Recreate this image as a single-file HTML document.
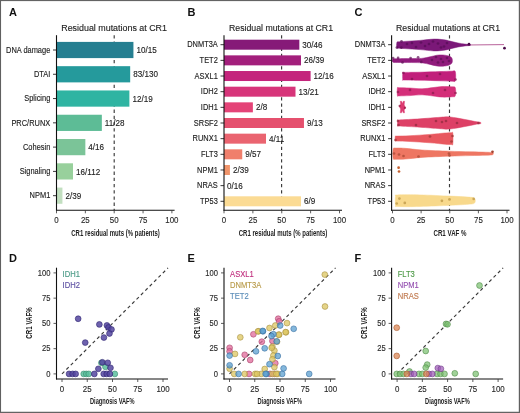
<!DOCTYPE html>
<html><head><meta charset="utf-8"><style>
html,body{margin:0;padding:0;background:#fff;}
svg{display:block;font-family:"Liberation Sans", sans-serif;will-change:transform;}
</style></head><body>
<svg width="520" height="413" viewBox="0 0 520 413">
<rect x="0" y="0" width="520" height="413" fill="#fff"/>
<text x="9.00" y="15.90" font-size="11" text-anchor="start" fill="#111" font-weight="bold">A</text>
<text x="187.40" y="15.90" font-size="11" text-anchor="start" fill="#111" font-weight="bold">B</text>
<text x="354.60" y="15.90" font-size="11" text-anchor="start" fill="#111" font-weight="bold">C</text>
<text x="9.00" y="261.90" font-size="11" text-anchor="start" fill="#111" font-weight="bold">D</text>
<text x="187.40" y="261.90" font-size="11" text-anchor="start" fill="#111" font-weight="bold">E</text>
<text x="354.60" y="261.90" font-size="11" text-anchor="start" fill="#111" font-weight="bold">F</text>
<text x="0" y="0" transform="translate(114.10,30.50) scale(1,1.06)" font-size="8.8" text-anchor="middle" fill="#222" font-weight="normal" textLength="105.7" lengthAdjust="spacingAndGlyphs" stroke="#222" stroke-width="0.12">Residual mutations at CR1</text>
<line x1="114.20" y1="35.20" x2="114.20" y2="210.30" stroke="#3a3a3a" stroke-width="1.15" stroke-dasharray="3.3,2.9"/>
<rect x="56.50" y="41.90" width="76.93" height="16.20" fill="#257f91"/>
<line x1="53.00" y1="50.00" x2="56.50" y2="50.00" stroke="#222" stroke-width="0.9"/>
<text x="0" y="0" transform="translate(50.30,52.70) scale(1,1.1)" font-size="7.45" text-anchor="end" fill="#222" font-weight="normal" stroke="#222" stroke-width="0.12">DNA damage</text>
<text x="0" y="0" transform="translate(136.43,53.10) scale(1,1.05)" font-size="8.1" text-anchor="start" fill="#222" font-weight="normal" stroke="#222" stroke-width="0.12">10/15</text>
<rect x="56.50" y="66.18" width="73.68" height="16.20" fill="#259a9c"/>
<line x1="53.00" y1="74.28" x2="56.50" y2="74.28" stroke="#222" stroke-width="0.9"/>
<text x="0" y="0" transform="translate(50.30,76.98) scale(1,1.1)" font-size="7.45" text-anchor="end" fill="#222" font-weight="normal" stroke="#222" stroke-width="0.12">DTAI</text>
<text x="0" y="0" transform="translate(133.18,77.38) scale(1,1.05)" font-size="8.1" text-anchor="start" fill="#222" font-weight="normal" stroke="#222" stroke-width="0.12">83/130</text>
<rect x="56.50" y="90.46" width="72.88" height="16.20" fill="#2fb4a2"/>
<line x1="53.00" y1="98.56" x2="56.50" y2="98.56" stroke="#222" stroke-width="0.9"/>
<text x="0" y="0" transform="translate(50.30,101.26) scale(1,1.1)" font-size="7.45" text-anchor="end" fill="#222" font-weight="normal" stroke="#222" stroke-width="0.12">Splicing</text>
<text x="0" y="0" transform="translate(132.38,101.66) scale(1,1.05)" font-size="8.1" text-anchor="start" fill="#222" font-weight="normal" stroke="#222" stroke-width="0.12">12/19</text>
<rect x="56.50" y="114.74" width="45.34" height="16.20" fill="#5dbc96"/>
<line x1="53.00" y1="122.84" x2="56.50" y2="122.84" stroke="#222" stroke-width="0.9"/>
<text x="0" y="0" transform="translate(50.30,125.54) scale(1,1.1)" font-size="7.45" text-anchor="end" fill="#222" font-weight="normal" stroke="#222" stroke-width="0.12">PRC/RUNX</text>
<text x="0" y="0" transform="translate(104.84,125.94) scale(1,1.05)" font-size="8.1" text-anchor="start" fill="#222" font-weight="normal" stroke="#222" stroke-width="0.12">11/28</text>
<rect x="56.50" y="139.02" width="28.85" height="16.20" fill="#7bc498"/>
<line x1="53.00" y1="147.12" x2="56.50" y2="147.12" stroke="#222" stroke-width="0.9"/>
<text x="0" y="0" transform="translate(50.30,149.82) scale(1,1.1)" font-size="7.45" text-anchor="end" fill="#222" font-weight="normal" stroke="#222" stroke-width="0.12">Cohesin</text>
<text x="0" y="0" transform="translate(88.35,150.22) scale(1,1.05)" font-size="8.1" text-anchor="start" fill="#222" font-weight="normal" stroke="#222" stroke-width="0.12">4/16</text>
<rect x="56.50" y="163.30" width="16.49" height="16.20" fill="#98d09c"/>
<line x1="53.00" y1="171.40" x2="56.50" y2="171.40" stroke="#222" stroke-width="0.9"/>
<text x="0" y="0" transform="translate(50.30,174.10) scale(1,1.1)" font-size="7.45" text-anchor="end" fill="#222" font-weight="normal" stroke="#222" stroke-width="0.12">Signaling</text>
<text x="0" y="0" transform="translate(75.99,174.50) scale(1,1.05)" font-size="8.1" text-anchor="start" fill="#222" font-weight="normal" stroke="#222" stroke-width="0.12">16/112</text>
<rect x="56.50" y="187.58" width="5.92" height="16.20" fill="#c2dfc0"/>
<line x1="53.00" y1="195.68" x2="56.50" y2="195.68" stroke="#222" stroke-width="0.9"/>
<text x="0" y="0" transform="translate(50.30,198.38) scale(1,1.1)" font-size="7.45" text-anchor="end" fill="#222" font-weight="normal" stroke="#222" stroke-width="0.12">NPM1</text>
<text x="0" y="0" transform="translate(65.42,198.78) scale(1,1.05)" font-size="8.1" text-anchor="start" fill="#222" font-weight="normal" stroke="#222" stroke-width="0.12">2/39</text>
<line x1="56.50" y1="35.20" x2="56.50" y2="210.80" stroke="#111" stroke-width="1.1"/>
<line x1="56.00" y1="210.30" x2="174.60" y2="210.30" stroke="#111" stroke-width="1.1"/>
<line x1="56.50" y1="210.30" x2="56.50" y2="213.30" stroke="#333" stroke-width="0.8"/>
<text x="0" y="0" transform="translate(56.50,222.80) scale(1,1.1)" font-size="7.9" text-anchor="middle" fill="#2a2a2a" font-weight="normal" stroke="#2a2a2a" stroke-width="0.12">0</text>
<line x1="85.35" y1="210.30" x2="85.35" y2="213.30" stroke="#333" stroke-width="0.8"/>
<text x="0" y="0" transform="translate(85.35,222.80) scale(1,1.1)" font-size="7.9" text-anchor="middle" fill="#2a2a2a" font-weight="normal" stroke="#2a2a2a" stroke-width="0.12">25</text>
<line x1="114.20" y1="210.30" x2="114.20" y2="213.30" stroke="#333" stroke-width="0.8"/>
<text x="0" y="0" transform="translate(114.20,222.80) scale(1,1.1)" font-size="7.9" text-anchor="middle" fill="#2a2a2a" font-weight="normal" stroke="#2a2a2a" stroke-width="0.12">50</text>
<line x1="143.05" y1="210.30" x2="143.05" y2="213.30" stroke="#333" stroke-width="0.8"/>
<text x="0" y="0" transform="translate(143.05,222.80) scale(1,1.1)" font-size="7.9" text-anchor="middle" fill="#2a2a2a" font-weight="normal" stroke="#2a2a2a" stroke-width="0.12">75</text>
<line x1="171.90" y1="210.30" x2="171.90" y2="213.30" stroke="#333" stroke-width="0.8"/>
<text x="0" y="0" transform="translate(171.90,222.80) scale(1,1.1)" font-size="7.9" text-anchor="middle" fill="#2a2a2a" font-weight="normal" stroke="#2a2a2a" stroke-width="0.12">100</text>
<text x="0" y="0" transform="translate(115.50,236.00) scale(1,1.1)" font-size="8.6" text-anchor="middle" fill="#222" font-weight="bold" textLength="88.5" lengthAdjust="spacingAndGlyphs">CR1 residual muts (% patients)</text>
<text x="0" y="0" transform="translate(281.00,30.50) scale(1,1.06)" font-size="8.8" text-anchor="middle" fill="#222" font-weight="normal" textLength="104" lengthAdjust="spacingAndGlyphs" stroke="#222" stroke-width="0.12">Residual mutations at CR1</text>
<line x1="281.60" y1="35.20" x2="281.60" y2="210.30" stroke="#3a3a3a" stroke-width="1.15" stroke-dasharray="3.3,2.9"/>
<rect x="224.00" y="39.70" width="75.33" height="10.00" fill="#861a78"/>
<line x1="220.50" y1="44.70" x2="224.00" y2="44.70" stroke="#222" stroke-width="0.9"/>
<text x="0" y="0" transform="translate(217.80,47.40) scale(1,1.1)" font-size="7.45" text-anchor="end" fill="#222" font-weight="normal" stroke="#222" stroke-width="0.12">DNMT3A</text>
<text x="0" y="0" transform="translate(302.33,47.80) scale(1,1.05)" font-size="8.1" text-anchor="start" fill="#222" font-weight="normal" stroke="#222" stroke-width="0.12">30/46</text>
<rect x="224.00" y="55.36" width="77.00" height="10.00" fill="#a31f7c"/>
<line x1="220.50" y1="60.36" x2="224.00" y2="60.36" stroke="#222" stroke-width="0.9"/>
<text x="0" y="0" transform="translate(217.80,63.06) scale(1,1.1)" font-size="7.45" text-anchor="end" fill="#222" font-weight="normal" stroke="#222" stroke-width="0.12">TET2</text>
<text x="0" y="0" transform="translate(304.00,63.46) scale(1,1.05)" font-size="8.1" text-anchor="start" fill="#222" font-weight="normal" stroke="#222" stroke-width="0.12">26/39</text>
<rect x="224.00" y="71.02" width="86.62" height="10.00" fill="#c4257c"/>
<line x1="220.50" y1="76.02" x2="224.00" y2="76.02" stroke="#222" stroke-width="0.9"/>
<text x="0" y="0" transform="translate(217.80,78.72) scale(1,1.1)" font-size="7.45" text-anchor="end" fill="#222" font-weight="normal" stroke="#222" stroke-width="0.12">ASXL1</text>
<text x="0" y="0" transform="translate(313.62,79.12) scale(1,1.05)" font-size="8.1" text-anchor="start" fill="#222" font-weight="normal" stroke="#222" stroke-width="0.12">12/16</text>
<rect x="224.00" y="86.68" width="71.50" height="10.00" fill="#d7357a"/>
<line x1="220.50" y1="91.68" x2="224.00" y2="91.68" stroke="#222" stroke-width="0.9"/>
<text x="0" y="0" transform="translate(217.80,94.38) scale(1,1.1)" font-size="7.45" text-anchor="end" fill="#222" font-weight="normal" stroke="#222" stroke-width="0.12">IDH2</text>
<text x="0" y="0" transform="translate(298.50,94.78) scale(1,1.05)" font-size="8.1" text-anchor="start" fill="#222" font-weight="normal" stroke="#222" stroke-width="0.12">13/21</text>
<rect x="224.00" y="102.34" width="28.88" height="10.00" fill="#e44377"/>
<line x1="220.50" y1="107.34" x2="224.00" y2="107.34" stroke="#222" stroke-width="0.9"/>
<text x="0" y="0" transform="translate(217.80,110.04) scale(1,1.1)" font-size="7.45" text-anchor="end" fill="#222" font-weight="normal" stroke="#222" stroke-width="0.12">IDH1</text>
<text x="0" y="0" transform="translate(255.88,110.44) scale(1,1.05)" font-size="8.1" text-anchor="start" fill="#222" font-weight="normal" stroke="#222" stroke-width="0.12">2/8</text>
<rect x="224.00" y="118.00" width="79.96" height="10.00" fill="#e5506e"/>
<line x1="220.50" y1="123.00" x2="224.00" y2="123.00" stroke="#222" stroke-width="0.9"/>
<text x="0" y="0" transform="translate(217.80,125.70) scale(1,1.1)" font-size="7.45" text-anchor="end" fill="#222" font-weight="normal" stroke="#222" stroke-width="0.12">SRSF2</text>
<text x="0" y="0" transform="translate(306.96,126.10) scale(1,1.05)" font-size="8.1" text-anchor="start" fill="#222" font-weight="normal" stroke="#222" stroke-width="0.12">9/13</text>
<rect x="224.00" y="133.66" width="42.00" height="10.00" fill="#ea6470"/>
<line x1="220.50" y1="138.66" x2="224.00" y2="138.66" stroke="#222" stroke-width="0.9"/>
<text x="0" y="0" transform="translate(217.80,141.36) scale(1,1.1)" font-size="7.45" text-anchor="end" fill="#222" font-weight="normal" stroke="#222" stroke-width="0.12">RUNX1</text>
<text x="0" y="0" transform="translate(269.00,141.76) scale(1,1.05)" font-size="8.1" text-anchor="start" fill="#222" font-weight="normal" stroke="#222" stroke-width="0.12">4/11</text>
<rect x="224.00" y="149.32" width="18.24" height="10.00" fill="#f07f6c"/>
<line x1="220.50" y1="154.32" x2="224.00" y2="154.32" stroke="#222" stroke-width="0.9"/>
<text x="0" y="0" transform="translate(217.80,157.02) scale(1,1.1)" font-size="7.45" text-anchor="end" fill="#222" font-weight="normal" stroke="#222" stroke-width="0.12">FLT3</text>
<text x="0" y="0" transform="translate(245.24,157.42) scale(1,1.05)" font-size="8.1" text-anchor="start" fill="#222" font-weight="normal" stroke="#222" stroke-width="0.12">9/57</text>
<rect x="224.00" y="164.98" width="5.92" height="10.00" fill="#f0946a"/>
<line x1="220.50" y1="169.98" x2="224.00" y2="169.98" stroke="#222" stroke-width="0.9"/>
<text x="0" y="0" transform="translate(217.80,172.68) scale(1,1.1)" font-size="7.45" text-anchor="end" fill="#222" font-weight="normal" stroke="#222" stroke-width="0.12">NPM1</text>
<text x="0" y="0" transform="translate(232.92,173.08) scale(1,1.05)" font-size="8.1" text-anchor="start" fill="#222" font-weight="normal" stroke="#222" stroke-width="0.12">2/39</text>
<line x1="220.50" y1="185.64" x2="224.00" y2="185.64" stroke="#222" stroke-width="0.9"/>
<text x="0" y="0" transform="translate(217.80,188.34) scale(1,1.1)" font-size="7.45" text-anchor="end" fill="#222" font-weight="normal" stroke="#222" stroke-width="0.12">NRAS</text>
<text x="0" y="0" transform="translate(227.00,188.74) scale(1,1.05)" font-size="8.1" text-anchor="start" fill="#222" font-weight="normal" stroke="#222" stroke-width="0.12">0/16</text>
<rect x="224.00" y="196.30" width="77.00" height="10.00" fill="#fbdb94"/>
<line x1="220.50" y1="201.30" x2="224.00" y2="201.30" stroke="#222" stroke-width="0.9"/>
<text x="0" y="0" transform="translate(217.80,204.00) scale(1,1.1)" font-size="7.45" text-anchor="end" fill="#222" font-weight="normal" stroke="#222" stroke-width="0.12">TP53</text>
<text x="0" y="0" transform="translate(304.00,204.40) scale(1,1.05)" font-size="8.1" text-anchor="start" fill="#222" font-weight="normal" stroke="#222" stroke-width="0.12">6/9</text>
<line x1="224.00" y1="35.20" x2="224.00" y2="210.80" stroke="#111" stroke-width="1.1"/>
<line x1="223.50" y1="210.30" x2="342.00" y2="210.30" stroke="#111" stroke-width="1.1"/>
<line x1="224.00" y1="210.30" x2="224.00" y2="213.30" stroke="#333" stroke-width="0.8"/>
<text x="0" y="0" transform="translate(224.00,222.80) scale(1,1.1)" font-size="7.9" text-anchor="middle" fill="#2a2a2a" font-weight="normal" stroke="#2a2a2a" stroke-width="0.12">0</text>
<line x1="252.88" y1="210.30" x2="252.88" y2="213.30" stroke="#333" stroke-width="0.8"/>
<text x="0" y="0" transform="translate(252.88,222.80) scale(1,1.1)" font-size="7.9" text-anchor="middle" fill="#2a2a2a" font-weight="normal" stroke="#2a2a2a" stroke-width="0.12">25</text>
<line x1="281.75" y1="210.30" x2="281.75" y2="213.30" stroke="#333" stroke-width="0.8"/>
<text x="0" y="0" transform="translate(281.75,222.80) scale(1,1.1)" font-size="7.9" text-anchor="middle" fill="#2a2a2a" font-weight="normal" stroke="#2a2a2a" stroke-width="0.12">50</text>
<line x1="310.62" y1="210.30" x2="310.62" y2="213.30" stroke="#333" stroke-width="0.8"/>
<text x="0" y="0" transform="translate(310.62,222.80) scale(1,1.1)" font-size="7.9" text-anchor="middle" fill="#2a2a2a" font-weight="normal" stroke="#2a2a2a" stroke-width="0.12">75</text>
<line x1="339.50" y1="210.30" x2="339.50" y2="213.30" stroke="#333" stroke-width="0.8"/>
<text x="0" y="0" transform="translate(339.50,222.80) scale(1,1.1)" font-size="7.9" text-anchor="middle" fill="#2a2a2a" font-weight="normal" stroke="#2a2a2a" stroke-width="0.12">100</text>
<text x="0" y="0" transform="translate(283.00,236.00) scale(1,1.1)" font-size="8.6" text-anchor="middle" fill="#222" font-weight="bold" textLength="88.5" lengthAdjust="spacingAndGlyphs">CR1 residual muts (% patients)</text>
<text x="0" y="0" transform="translate(448.00,30.50) scale(1,1.06)" font-size="8.8" text-anchor="middle" fill="#222" font-weight="normal" textLength="104" lengthAdjust="spacingAndGlyphs" stroke="#222" stroke-width="0.12">Residual mutations at CR1</text>
<line x1="388.10" y1="44.70" x2="391.60" y2="44.70" stroke="#222" stroke-width="0.9"/>
<text x="0" y="0" transform="translate(385.40,47.40) scale(1,1.1)" font-size="7.45" text-anchor="end" fill="#222" font-weight="normal" stroke="#222" stroke-width="0.12">DNMT3A</text>
<line x1="388.10" y1="60.36" x2="391.60" y2="60.36" stroke="#222" stroke-width="0.9"/>
<text x="0" y="0" transform="translate(385.40,63.06) scale(1,1.1)" font-size="7.45" text-anchor="end" fill="#222" font-weight="normal" stroke="#222" stroke-width="0.12">TET2</text>
<line x1="388.10" y1="76.02" x2="391.60" y2="76.02" stroke="#222" stroke-width="0.9"/>
<text x="0" y="0" transform="translate(385.40,78.72) scale(1,1.1)" font-size="7.45" text-anchor="end" fill="#222" font-weight="normal" stroke="#222" stroke-width="0.12">ASXL1</text>
<line x1="388.10" y1="91.68" x2="391.60" y2="91.68" stroke="#222" stroke-width="0.9"/>
<text x="0" y="0" transform="translate(385.40,94.38) scale(1,1.1)" font-size="7.45" text-anchor="end" fill="#222" font-weight="normal" stroke="#222" stroke-width="0.12">IDH2</text>
<line x1="388.10" y1="107.34" x2="391.60" y2="107.34" stroke="#222" stroke-width="0.9"/>
<text x="0" y="0" transform="translate(385.40,110.04) scale(1,1.1)" font-size="7.45" text-anchor="end" fill="#222" font-weight="normal" stroke="#222" stroke-width="0.12">IDH1</text>
<line x1="388.10" y1="123.00" x2="391.60" y2="123.00" stroke="#222" stroke-width="0.9"/>
<text x="0" y="0" transform="translate(385.40,125.70) scale(1,1.1)" font-size="7.45" text-anchor="end" fill="#222" font-weight="normal" stroke="#222" stroke-width="0.12">SRSF2</text>
<line x1="388.10" y1="138.66" x2="391.60" y2="138.66" stroke="#222" stroke-width="0.9"/>
<text x="0" y="0" transform="translate(385.40,141.36) scale(1,1.1)" font-size="7.45" text-anchor="end" fill="#222" font-weight="normal" stroke="#222" stroke-width="0.12">RUNX1</text>
<line x1="388.10" y1="154.32" x2="391.60" y2="154.32" stroke="#222" stroke-width="0.9"/>
<text x="0" y="0" transform="translate(385.40,157.02) scale(1,1.1)" font-size="7.45" text-anchor="end" fill="#222" font-weight="normal" stroke="#222" stroke-width="0.12">FLT3</text>
<line x1="388.10" y1="169.98" x2="391.60" y2="169.98" stroke="#222" stroke-width="0.9"/>
<text x="0" y="0" transform="translate(385.40,172.68) scale(1,1.1)" font-size="7.45" text-anchor="end" fill="#222" font-weight="normal" stroke="#222" stroke-width="0.12">NPM1</text>
<line x1="388.10" y1="185.64" x2="391.60" y2="185.64" stroke="#222" stroke-width="0.9"/>
<text x="0" y="0" transform="translate(385.40,188.34) scale(1,1.1)" font-size="7.45" text-anchor="end" fill="#222" font-weight="normal" stroke="#222" stroke-width="0.12">NRAS</text>
<line x1="388.10" y1="201.30" x2="391.60" y2="201.30" stroke="#222" stroke-width="0.9"/>
<text x="0" y="0" transform="translate(385.40,204.00) scale(1,1.1)" font-size="7.45" text-anchor="end" fill="#222" font-weight="normal" stroke="#222" stroke-width="0.12">TP53</text>
<line x1="449.50" y1="35.20" x2="449.50" y2="210.30" stroke="#3a3a3a" stroke-width="1.15" stroke-dasharray="3.3,2.9"/>
<path d="M466,45 L504,44.6" stroke="#b0508f" stroke-width="0.9" fill="none"/>
<path d="M396.90,42.40 C397.25,41.43 397.65,41.97 399.00,41.80 C400.35,41.63 401.50,41.63 405.00,41.40 C408.50,41.17 415.17,40.78 420.00,40.40 C424.83,40.02 430.00,39.20 434.00,39.10 C438.00,39.00 441.33,39.47 444.00,39.80 C446.67,40.13 447.67,40.57 450.00,41.10 C452.33,41.63 455.50,42.50 458.00,43.00 C460.50,43.50 463.00,43.84 465.00,44.10 C467.00,44.36 469.17,44.32 470.00,44.55 C470.83,44.77 470.83,45.23 470.00,45.45 C469.17,45.68 467.00,45.64 465.00,45.90 C463.00,46.16 460.50,46.50 458.00,47.00 C455.50,47.50 452.33,48.37 450.00,48.90 C447.67,49.43 446.67,49.87 444.00,50.20 C441.33,50.53 438.00,51.00 434.00,50.90 C430.00,50.80 424.83,49.98 420.00,49.60 C415.17,49.22 408.50,48.83 405.00,48.60 C401.50,48.37 400.35,48.37 399.00,48.20 C397.65,48.03 397.25,48.57 396.90,47.60 C396.55,46.63 396.55,43.37 396.90,42.40Z" fill="#7b1878" fill-opacity="1.0" stroke="#7b1878" stroke-width="0.5" stroke-linejoin="round"/>
<circle cx="401.50" cy="41.30" r="1.35" fill="#560c54" fill-opacity="0.7"/>
<circle cx="396.90" cy="47.60" r="1.35" fill="#560c54" fill-opacity="0.7"/>
<circle cx="401.30" cy="47.60" r="1.35" fill="#560c54" fill-opacity="0.7"/>
<circle cx="407.00" cy="44.00" r="1.35" fill="#560c54" fill-opacity="0.7"/>
<circle cx="412.00" cy="43.00" r="1.35" fill="#560c54" fill-opacity="0.7"/>
<circle cx="416.00" cy="47.00" r="1.35" fill="#560c54" fill-opacity="0.7"/>
<circle cx="421.00" cy="42.50" r="1.35" fill="#560c54" fill-opacity="0.7"/>
<circle cx="425.00" cy="46.00" r="1.35" fill="#560c54" fill-opacity="0.7"/>
<circle cx="429.00" cy="44.00" r="1.35" fill="#560c54" fill-opacity="0.7"/>
<circle cx="433.00" cy="41.50" r="1.35" fill="#560c54" fill-opacity="0.7"/>
<circle cx="438.00" cy="43.50" r="1.35" fill="#560c54" fill-opacity="0.7"/>
<circle cx="441.00" cy="47.50" r="1.35" fill="#560c54" fill-opacity="0.7"/>
<circle cx="444.00" cy="46.50" r="1.35" fill="#560c54" fill-opacity="0.7"/>
<circle cx="447.00" cy="43.00" r="1.35" fill="#560c54" fill-opacity="0.7"/>
<circle cx="469.00" cy="44.20" r="1.35" fill="#4a0a48" fill-opacity="1.0"/>
<circle cx="504.50" cy="48.20" r="1.35" fill="#4a0a48" fill-opacity="1.0"/>
<path d="M393.00,59.00 C394.17,58.42 396.33,58.77 400.00,58.70 C403.67,58.63 411.17,58.68 415.00,58.60 C418.83,58.52 420.50,58.50 423.00,58.20 C425.50,57.90 427.67,57.30 430.00,56.80 C432.33,56.30 434.83,55.50 437.00,55.20 C439.17,54.90 441.00,54.85 443.00,55.00 C445.00,55.15 447.50,55.53 449.00,56.10 C450.50,56.67 451.50,57.28 452.00,58.40 C452.50,59.52 452.50,61.68 452.00,62.80 C451.50,63.92 450.50,64.53 449.00,65.10 C447.50,65.67 445.00,66.05 443.00,66.20 C441.00,66.35 439.17,66.30 437.00,66.00 C434.83,65.70 432.33,64.90 430.00,64.40 C427.67,63.90 425.50,63.30 423.00,63.00 C420.50,62.70 418.83,62.68 415.00,62.60 C411.17,62.52 403.67,62.57 400.00,62.50 C396.33,62.43 394.17,62.78 393.00,62.20 C391.83,61.62 391.83,59.58 393.00,59.00Z" fill="#901b7c" fill-opacity="1.0" stroke="#901b7c" stroke-width="0.5" stroke-linejoin="round"/>
<circle cx="393.10" cy="58.10" r="1.35" fill="#5e0f55" fill-opacity="0.7"/>
<circle cx="398.10" cy="57.90" r="1.35" fill="#5e0f55" fill-opacity="0.7"/>
<circle cx="402.50" cy="62.50" r="1.35" fill="#5e0f55" fill-opacity="0.7"/>
<circle cx="410.60" cy="58.10" r="1.35" fill="#5e0f55" fill-opacity="0.7"/>
<circle cx="418.10" cy="57.30" r="1.35" fill="#5e0f55" fill-opacity="0.7"/>
<circle cx="421.30" cy="61.90" r="1.35" fill="#5e0f55" fill-opacity="0.7"/>
<circle cx="432.00" cy="60.00" r="1.35" fill="#5e0f55" fill-opacity="0.7"/>
<circle cx="436.00" cy="57.00" r="1.35" fill="#5e0f55" fill-opacity="0.7"/>
<circle cx="438.00" cy="62.50" r="1.35" fill="#5e0f55" fill-opacity="0.7"/>
<circle cx="441.00" cy="59.00" r="1.35" fill="#5e0f55" fill-opacity="0.7"/>
<circle cx="443.00" cy="62.00" r="1.35" fill="#5e0f55" fill-opacity="0.7"/>
<circle cx="447.00" cy="58.00" r="1.35" fill="#5e0f55" fill-opacity="0.7"/>
<circle cx="449.00" cy="61.00" r="1.35" fill="#5e0f55" fill-opacity="0.7"/>
<path d="M402.80,72.80 C403.00,71.60 401.13,72.50 404.00,72.40 C406.87,72.30 414.00,72.33 420.00,72.20 C426.00,72.07 434.67,71.77 440.00,71.60 C445.33,71.43 449.45,71.18 452.00,71.20 C454.55,71.22 454.75,70.12 455.30,71.70 C455.85,73.28 455.85,79.12 455.30,80.70 C454.75,82.28 454.55,81.18 452.00,81.20 C449.45,81.22 445.33,80.97 440.00,80.80 C434.67,80.63 426.00,80.33 420.00,80.20 C414.00,80.07 406.87,80.10 404.00,80.00 C401.13,79.90 403.00,80.80 402.80,79.60 C402.60,78.40 402.60,74.00 402.80,72.80Z" fill="#c11f7b" fill-opacity="1.0" stroke="#c11f7b" stroke-width="0.5" stroke-linejoin="round"/>
<circle cx="403.50" cy="73.00" r="1.35" fill="#7d1450" fill-opacity="0.7"/>
<circle cx="412.00" cy="79.00" r="1.35" fill="#7d1450" fill-opacity="0.7"/>
<circle cx="427.00" cy="76.00" r="1.35" fill="#7d1450" fill-opacity="0.7"/>
<circle cx="440.00" cy="74.00" r="1.35" fill="#7d1450" fill-opacity="0.7"/>
<circle cx="455.50" cy="79.50" r="1.35" fill="#7d1450" fill-opacity="0.7"/>
<path d="M397.40,88.00 C397.67,86.68 396.90,87.70 399.00,87.70 C401.10,87.70 406.17,87.82 410.00,88.00 C413.83,88.18 418.17,88.87 422.00,88.80 C425.83,88.73 429.67,87.98 433.00,87.60 C436.33,87.22 438.83,86.63 442.00,86.50 C445.17,86.37 449.78,86.58 452.00,86.80 C454.22,87.02 454.75,86.30 455.30,87.80 C455.85,89.30 455.85,94.30 455.30,95.80 C454.75,97.30 454.22,96.58 452.00,96.80 C449.78,97.02 445.17,97.23 442.00,97.10 C438.83,96.97 436.33,96.38 433.00,96.00 C429.67,95.62 425.83,94.87 422.00,94.80 C418.17,94.73 413.83,95.42 410.00,95.60 C406.17,95.78 401.10,95.90 399.00,95.90 C396.90,95.90 397.67,96.92 397.40,95.60 C397.13,94.28 397.13,89.32 397.40,88.00Z" fill="#d42f79" fill-opacity="1.0" stroke="#d42f79" stroke-width="0.5" stroke-linejoin="round"/>
<circle cx="398.00" cy="92.00" r="1.35" fill="#8a1b4d" fill-opacity="0.7"/>
<circle cx="410.00" cy="90.00" r="1.35" fill="#8a1b4d" fill-opacity="0.7"/>
<circle cx="433.00" cy="93.00" r="1.35" fill="#8a1b4d" fill-opacity="0.7"/>
<circle cx="445.00" cy="90.00" r="1.35" fill="#8a1b4d" fill-opacity="0.7"/>
<circle cx="455.50" cy="93.00" r="1.35" fill="#8a1b4d" fill-opacity="0.7"/>
<path d="M400.2,101.3 L401.6,101.3 L402.4,103.5 L403.2,101.3 L404.6,101.3 L404.2,105 L405.6,107.5 L404.2,110 L404.6,112.8 L403.2,112.8 L402.4,110.5 L401.6,112.8 L400.2,112.8 L400.6,109 L399.2,106.5 L400.6,104 Z" fill="#dc3a70" stroke="#dc3a70" stroke-width="0.4" stroke-linejoin="round"/>
<circle cx="399.60" cy="105.80" r="1.1" fill="#8a1840" fill-opacity="0.7"/>
<circle cx="404.90" cy="107.90" r="1.1" fill="#8a1840" fill-opacity="0.7"/>
<path d="M397.70,120.40 C397.92,119.47 395.28,120.27 399.00,120.00 C402.72,119.73 413.17,119.25 420.00,118.80 C426.83,118.35 435.00,117.60 440.00,117.30 C445.00,117.00 445.83,116.63 450.00,117.00 C454.17,117.37 460.83,118.75 465.00,119.50 C469.17,120.25 472.42,121.02 475.00,121.50 C477.58,121.98 479.58,122.05 480.50,122.40 C481.42,122.75 481.42,123.25 480.50,123.60 C479.58,123.95 477.58,124.02 475.00,124.50 C472.42,124.98 469.17,125.75 465.00,126.50 C460.83,127.25 454.17,128.63 450.00,129.00 C445.83,129.37 445.00,129.00 440.00,128.70 C435.00,128.40 426.83,127.65 420.00,127.20 C413.17,126.75 402.72,126.27 399.00,126.00 C395.28,125.73 397.92,126.53 397.70,125.60 C397.48,124.67 397.48,121.33 397.70,120.40Z" fill="#dd4066" fill-opacity="1.0" stroke="#dd4066" stroke-width="0.5" stroke-linejoin="round"/>
<circle cx="398.00" cy="121.00" r="1.35" fill="#8e2a3d" fill-opacity="0.7"/>
<circle cx="398.50" cy="125.00" r="1.35" fill="#8e2a3d" fill-opacity="0.7"/>
<circle cx="416.00" cy="125.00" r="1.35" fill="#8e2a3d" fill-opacity="0.7"/>
<circle cx="436.00" cy="121.00" r="1.35" fill="#8e2a3d" fill-opacity="0.7"/>
<circle cx="442.00" cy="122.00" r="1.35" fill="#8e2a3d" fill-opacity="0.7"/>
<circle cx="446.00" cy="121.00" r="1.35" fill="#8e2a3d" fill-opacity="0.7"/>
<circle cx="457.00" cy="123.00" r="1.35" fill="#8e2a3d" fill-opacity="0.7"/>
<circle cx="478.50" cy="123.00" r="1.35" fill="#8e2a3d" fill-opacity="0.7"/>
<path d="M395.30,136.30 C395.58,135.50 394.55,136.20 397.00,136.10 C399.45,136.00 404.50,135.98 410.00,135.70 C415.50,135.42 424.17,134.85 430.00,134.40 C435.83,133.95 441.50,133.28 445.00,133.00 C448.50,132.72 449.70,132.68 451.00,132.70 C452.30,132.72 452.50,131.20 452.80,133.10 C453.10,135.00 453.10,142.20 452.80,144.10 C452.50,146.00 452.30,144.48 451.00,144.50 C449.70,144.52 448.50,144.48 445.00,144.20 C441.50,143.92 435.83,143.25 430.00,142.80 C424.17,142.35 415.50,141.78 410.00,141.50 C404.50,141.22 399.45,141.20 397.00,141.10 C394.55,141.00 395.58,141.70 395.30,140.90 C395.02,140.10 395.02,137.10 395.30,136.30Z" fill="#e8585f" fill-opacity="1.0" stroke="#e8585f" stroke-width="0.5" stroke-linejoin="round"/>
<circle cx="395.50" cy="140.00" r="1.35" fill="#9a3533" fill-opacity="0.7"/>
<circle cx="430.00" cy="136.50" r="1.35" fill="#9a3533" fill-opacity="0.7"/>
<circle cx="452.50" cy="136.00" r="1.35" fill="#9a3533" fill-opacity="0.7"/>
<circle cx="451.50" cy="141.50" r="1.35" fill="#9a3533" fill-opacity="0.7"/>
<path d="M393.20,148.90 C393.67,147.17 394.03,148.20 396.00,148.10 C397.97,148.00 400.67,147.98 405.00,148.30 C409.33,148.62 414.67,149.52 422.00,150.00 C429.33,150.48 441.00,150.90 449.00,151.20 C457.00,151.50 463.83,151.63 470.00,151.80 C476.17,151.97 482.23,152.05 486.00,152.20 C489.77,152.35 491.50,152.28 492.60,152.70 C493.70,153.12 493.70,154.28 492.60,154.70 C491.50,155.12 489.77,155.05 486.00,155.20 C482.23,155.35 476.17,155.43 470.00,155.60 C463.83,155.77 457.00,155.90 449.00,156.20 C441.00,156.50 429.33,156.92 422.00,157.40 C414.67,157.88 409.33,158.78 405.00,159.10 C400.67,159.42 397.97,159.40 396.00,159.30 C394.03,159.20 393.67,160.23 393.20,158.50 C392.73,156.77 392.73,150.63 393.20,148.90Z" fill="#ee7662" fill-opacity="1.0" stroke="#ee7662" stroke-width="0.5" stroke-linejoin="round"/>
<circle cx="394.00" cy="153.50" r="1.35" fill="#a44531" fill-opacity="0.7"/>
<circle cx="399.00" cy="154.50" r="1.35" fill="#a44531" fill-opacity="0.7"/>
<circle cx="403.50" cy="156.00" r="1.35" fill="#a44531" fill-opacity="0.7"/>
<circle cx="418.50" cy="156.50" r="1.35" fill="#a44531" fill-opacity="0.7"/>
<circle cx="449.00" cy="153.50" r="1.35" fill="#a44531" fill-opacity="0.7"/>
<circle cx="449.50" cy="155.50" r="1.35" fill="#a44531" fill-opacity="0.7"/>
<circle cx="492.50" cy="151.80" r="1.35" fill="#a44531" fill-opacity="1.0"/>
<circle cx="398.60" cy="167.70" r="1.35" fill="#c5602f" fill-opacity="1.0"/>
<circle cx="399.00" cy="171.50" r="1.35" fill="#c5602f" fill-opacity="1.0"/>
<path d="M395.50,196.50 C395.83,194.83 393.42,195.17 397.50,194.90 C401.58,194.63 411.25,194.70 420.00,194.90 C428.75,195.10 442.00,195.73 450.00,196.10 C458.00,196.47 463.92,196.73 468.00,197.10 C472.08,197.47 473.42,197.30 474.50,198.30 C475.58,199.30 475.58,202.10 474.50,203.10 C473.42,204.10 472.08,203.93 468.00,204.30 C463.92,204.67 458.00,204.93 450.00,205.30 C442.00,205.67 428.75,206.30 420.00,206.50 C411.25,206.70 401.58,206.77 397.50,206.50 C393.42,206.23 395.83,206.57 395.50,204.90 C395.17,203.23 395.17,198.17 395.50,196.50Z" fill="#f8d98c" fill-opacity="1.0" stroke="#f8d98c" stroke-width="0.5" stroke-linejoin="round"/>
<circle cx="399.40" cy="198.60" r="1.35" fill="#b89140" fill-opacity="0.7"/>
<circle cx="396.70" cy="203.50" r="1.35" fill="#b89140" fill-opacity="0.7"/>
<circle cx="404.80" cy="202.90" r="1.35" fill="#b89140" fill-opacity="0.7"/>
<circle cx="441.90" cy="200.80" r="1.35" fill="#b89140" fill-opacity="0.7"/>
<circle cx="449.50" cy="199.40" r="1.35" fill="#b89140" fill-opacity="0.7"/>
<circle cx="473.70" cy="198.90" r="1.35" fill="#b89140" fill-opacity="0.7"/>
<line x1="391.60" y1="35.20" x2="391.60" y2="210.80" stroke="#111" stroke-width="1.1"/>
<line x1="391.10" y1="210.30" x2="509.50" y2="210.30" stroke="#111" stroke-width="1.1"/>
<line x1="392.50" y1="210.30" x2="392.50" y2="213.30" stroke="#333" stroke-width="0.8"/>
<text x="0" y="0" transform="translate(392.50,222.80) scale(1,1.1)" font-size="7.9" text-anchor="middle" fill="#2a2a2a" font-weight="normal" stroke="#2a2a2a" stroke-width="0.12">0</text>
<line x1="421.12" y1="210.30" x2="421.12" y2="213.30" stroke="#333" stroke-width="0.8"/>
<text x="0" y="0" transform="translate(421.12,222.80) scale(1,1.1)" font-size="7.9" text-anchor="middle" fill="#2a2a2a" font-weight="normal" stroke="#2a2a2a" stroke-width="0.12">25</text>
<line x1="449.75" y1="210.30" x2="449.75" y2="213.30" stroke="#333" stroke-width="0.8"/>
<text x="0" y="0" transform="translate(449.75,222.80) scale(1,1.1)" font-size="7.9" text-anchor="middle" fill="#2a2a2a" font-weight="normal" stroke="#2a2a2a" stroke-width="0.12">50</text>
<line x1="478.38" y1="210.30" x2="478.38" y2="213.30" stroke="#333" stroke-width="0.8"/>
<text x="0" y="0" transform="translate(478.38,222.80) scale(1,1.1)" font-size="7.9" text-anchor="middle" fill="#2a2a2a" font-weight="normal" stroke="#2a2a2a" stroke-width="0.12">75</text>
<line x1="507.00" y1="210.30" x2="507.00" y2="213.30" stroke="#333" stroke-width="0.8"/>
<text x="0" y="0" transform="translate(507.00,222.80) scale(1,1.1)" font-size="7.9" text-anchor="middle" fill="#2a2a2a" font-weight="normal" stroke="#2a2a2a" stroke-width="0.12">100</text>
<text x="0" y="0" transform="translate(450.00,236.00) scale(1,1.1)" font-size="8.6" text-anchor="middle" fill="#222" font-weight="bold" textLength="33" lengthAdjust="spacingAndGlyphs">CR1 VAF %</text>
<line x1="62.00" y1="373.90" x2="168.05" y2="267.85" stroke="#3a3a3a" stroke-width="1.15" stroke-dasharray="3.3,2.9"/>
<circle cx="83.72" cy="373.90" r="2.9" fill="#5cbf9e" fill-opacity="0.85" stroke="#3a8a6e" stroke-opacity="0.85" stroke-width="0.7"/>
<circle cx="86.24" cy="373.90" r="2.9" fill="#5cbf9e" fill-opacity="0.85" stroke="#3a8a6e" stroke-opacity="0.85" stroke-width="0.7"/>
<circle cx="88.77" cy="373.90" r="2.9" fill="#5cbf9e" fill-opacity="0.85" stroke="#3a8a6e" stroke-opacity="0.85" stroke-width="0.7"/>
<circle cx="105.43" cy="366.83" r="2.9" fill="#5cbf9e" fill-opacity="0.85" stroke="#3a8a6e" stroke-opacity="0.85" stroke-width="0.7"/>
<circle cx="114.82" cy="373.90" r="2.9" fill="#5cbf9e" fill-opacity="0.85" stroke="#3a8a6e" stroke-opacity="0.85" stroke-width="0.7"/>
<circle cx="101.39" cy="362.79" r="2.9" fill="#5cbf9e" fill-opacity="0.85" stroke="#3a8a6e" stroke-opacity="0.85" stroke-width="0.7"/>
<circle cx="78.16" cy="318.75" r="2.9" fill="#5546a0" fill-opacity="0.85" stroke="#2e2470" stroke-opacity="0.85" stroke-width="0.7"/>
<circle cx="99.37" cy="324.41" r="2.9" fill="#5546a0" fill-opacity="0.85" stroke="#2e2470" stroke-opacity="0.85" stroke-width="0.7"/>
<circle cx="106.94" cy="325.42" r="2.9" fill="#5546a0" fill-opacity="0.85" stroke="#2e2470" stroke-opacity="0.85" stroke-width="0.7"/>
<circle cx="108.46" cy="327.44" r="2.9" fill="#5546a0" fill-opacity="0.85" stroke="#2e2470" stroke-opacity="0.85" stroke-width="0.7"/>
<circle cx="111.49" cy="329.46" r="2.9" fill="#5546a0" fill-opacity="0.85" stroke="#2e2470" stroke-opacity="0.85" stroke-width="0.7"/>
<circle cx="109.47" cy="333.50" r="2.9" fill="#5546a0" fill-opacity="0.85" stroke="#2e2470" stroke-opacity="0.85" stroke-width="0.7"/>
<circle cx="103.91" cy="337.54" r="2.9" fill="#5546a0" fill-opacity="0.85" stroke="#2e2470" stroke-opacity="0.85" stroke-width="0.7"/>
<circle cx="85.23" cy="342.59" r="2.9" fill="#5546a0" fill-opacity="0.85" stroke="#2e2470" stroke-opacity="0.85" stroke-width="0.7"/>
<circle cx="69.07" cy="373.90" r="2.9" fill="#5546a0" fill-opacity="0.85" stroke="#2e2470" stroke-opacity="0.85" stroke-width="0.7"/>
<circle cx="72.61" cy="373.90" r="2.9" fill="#5546a0" fill-opacity="0.85" stroke="#2e2470" stroke-opacity="0.85" stroke-width="0.7"/>
<circle cx="75.64" cy="373.90" r="2.9" fill="#5546a0" fill-opacity="0.85" stroke="#2e2470" stroke-opacity="0.85" stroke-width="0.7"/>
<circle cx="94.32" cy="373.90" r="2.9" fill="#5546a0" fill-opacity="0.85" stroke="#2e2470" stroke-opacity="0.85" stroke-width="0.7"/>
<circle cx="103.71" cy="373.90" r="2.9" fill="#5546a0" fill-opacity="0.85" stroke="#2e2470" stroke-opacity="0.85" stroke-width="0.7"/>
<circle cx="106.74" cy="373.90" r="2.9" fill="#5546a0" fill-opacity="0.85" stroke="#2e2470" stroke-opacity="0.85" stroke-width="0.7"/>
<circle cx="109.87" cy="373.90" r="2.9" fill="#5546a0" fill-opacity="0.85" stroke="#2e2470" stroke-opacity="0.85" stroke-width="0.7"/>
<circle cx="98.36" cy="368.85" r="2.9" fill="#5546a0" fill-opacity="0.85" stroke="#2e2470" stroke-opacity="0.85" stroke-width="0.7"/>
<circle cx="110.48" cy="367.84" r="2.9" fill="#5546a0" fill-opacity="0.85" stroke="#2e2470" stroke-opacity="0.85" stroke-width="0.7"/>
<circle cx="102.40" cy="362.28" r="2.9" fill="#5546a0" fill-opacity="0.85" stroke="#2e2470" stroke-opacity="0.85" stroke-width="0.7"/>
<circle cx="107.75" cy="362.79" r="2.9" fill="#5546a0" fill-opacity="0.85" stroke="#2e2470" stroke-opacity="0.85" stroke-width="0.7"/>
<line x1="56.50" y1="267.70" x2="56.50" y2="379.50" stroke="#111" stroke-width="1.1"/>
<line x1="56.00" y1="379.00" x2="168.00" y2="379.00" stroke="#111" stroke-width="1.1"/>
<line x1="62.00" y1="379.00" x2="62.00" y2="382.00" stroke="#333" stroke-width="0.8"/>
<text x="0" y="0" transform="translate(62.00,391.80) scale(1,1.1)" font-size="7.9" text-anchor="middle" fill="#2a2a2a" font-weight="normal" stroke="#2a2a2a" stroke-width="0.12">0</text>
<line x1="53.50" y1="373.90" x2="56.50" y2="373.90" stroke="#333" stroke-width="0.8"/>
<text x="0" y="0" transform="translate(50.50,376.70) scale(1,1.12)" font-size="7.6" text-anchor="end" fill="#2a2a2a" font-weight="normal" stroke="#2a2a2a" stroke-width="0.12">0</text>
<line x1="87.25" y1="379.00" x2="87.25" y2="382.00" stroke="#333" stroke-width="0.8"/>
<text x="0" y="0" transform="translate(87.25,391.80) scale(1,1.1)" font-size="7.9" text-anchor="middle" fill="#2a2a2a" font-weight="normal" stroke="#2a2a2a" stroke-width="0.12">25</text>
<line x1="53.50" y1="348.65" x2="56.50" y2="348.65" stroke="#333" stroke-width="0.8"/>
<text x="0" y="0" transform="translate(50.50,351.45) scale(1,1.12)" font-size="7.6" text-anchor="end" fill="#2a2a2a" font-weight="normal" stroke="#2a2a2a" stroke-width="0.12">25</text>
<line x1="112.50" y1="379.00" x2="112.50" y2="382.00" stroke="#333" stroke-width="0.8"/>
<text x="0" y="0" transform="translate(112.50,391.80) scale(1,1.1)" font-size="7.9" text-anchor="middle" fill="#2a2a2a" font-weight="normal" stroke="#2a2a2a" stroke-width="0.12">50</text>
<line x1="53.50" y1="323.40" x2="56.50" y2="323.40" stroke="#333" stroke-width="0.8"/>
<text x="0" y="0" transform="translate(50.50,326.20) scale(1,1.12)" font-size="7.6" text-anchor="end" fill="#2a2a2a" font-weight="normal" stroke="#2a2a2a" stroke-width="0.12">50</text>
<line x1="137.75" y1="379.00" x2="137.75" y2="382.00" stroke="#333" stroke-width="0.8"/>
<text x="0" y="0" transform="translate(137.75,391.80) scale(1,1.1)" font-size="7.9" text-anchor="middle" fill="#2a2a2a" font-weight="normal" stroke="#2a2a2a" stroke-width="0.12">75</text>
<line x1="53.50" y1="298.15" x2="56.50" y2="298.15" stroke="#333" stroke-width="0.8"/>
<text x="0" y="0" transform="translate(50.50,300.95) scale(1,1.12)" font-size="7.6" text-anchor="end" fill="#2a2a2a" font-weight="normal" stroke="#2a2a2a" stroke-width="0.12">75</text>
<line x1="163.00" y1="379.00" x2="163.00" y2="382.00" stroke="#333" stroke-width="0.8"/>
<text x="0" y="0" transform="translate(163.00,391.80) scale(1,1.1)" font-size="7.9" text-anchor="middle" fill="#2a2a2a" font-weight="normal" stroke="#2a2a2a" stroke-width="0.12">100</text>
<line x1="53.50" y1="272.90" x2="56.50" y2="272.90" stroke="#333" stroke-width="0.8"/>
<text x="0" y="0" transform="translate(50.50,275.70) scale(1,1.12)" font-size="7.6" text-anchor="end" fill="#2a2a2a" font-weight="normal" stroke="#2a2a2a" stroke-width="0.12">100</text>
<text x="0" y="0" transform="translate(62.60,276.50) scale(1,1.12)" font-size="7.6" text-anchor="start" fill="#4a9a86" font-weight="normal" stroke="#4a9a86" stroke-width="0.12">IDH1</text>
<text x="0" y="0" transform="translate(62.60,287.70) scale(1,1.12)" font-size="7.6" text-anchor="start" fill="#5c4fa2" font-weight="normal" stroke="#5c4fa2" stroke-width="0.12">IDH2</text>
<text x="0" y="0" transform="translate(112.30,404.30) scale(1,1.1)" font-size="8.6" text-anchor="middle" fill="#222" font-weight="bold" textLength="44.6" lengthAdjust="spacingAndGlyphs">Diagnosis VAF%</text>
<text x="0" y="0" font-size="8.8" fill="#222" font-weight="bold" text-anchor="middle" textLength="31.5" lengthAdjust="spacingAndGlyphs" transform="translate(32.20,322.9) rotate(-90) scale(1,1.08)">CR1 VAF%</text>
<line x1="229.50" y1="373.90" x2="335.55" y2="267.85" stroke="#3a3a3a" stroke-width="1.15" stroke-dasharray="3.3,2.9"/>
<circle cx="249.00" cy="373.90" r="2.9" fill="#e06a9a" fill-opacity="0.75" stroke="#a8406a" stroke-opacity="0.85" stroke-width="0.7"/>
<circle cx="270.00" cy="373.90" r="2.9" fill="#e06a9a" fill-opacity="0.75" stroke="#a8406a" stroke-opacity="0.85" stroke-width="0.7"/>
<circle cx="274.30" cy="373.90" r="2.9" fill="#e06a9a" fill-opacity="0.75" stroke="#a8406a" stroke-opacity="0.85" stroke-width="0.7"/>
<circle cx="229.60" cy="347.80" r="2.9" fill="#e06a9a" fill-opacity="0.75" stroke="#a8406a" stroke-opacity="0.85" stroke-width="0.7"/>
<circle cx="229.60" cy="351.30" r="2.9" fill="#e06a9a" fill-opacity="0.75" stroke="#a8406a" stroke-opacity="0.85" stroke-width="0.7"/>
<circle cx="253.40" cy="334.30" r="2.9" fill="#e06a9a" fill-opacity="0.75" stroke="#a8406a" stroke-opacity="0.85" stroke-width="0.7"/>
<circle cx="261.80" cy="341.70" r="2.9" fill="#e06a9a" fill-opacity="0.75" stroke="#a8406a" stroke-opacity="0.85" stroke-width="0.7"/>
<circle cx="244.70" cy="354.80" r="2.9" fill="#e06a9a" fill-opacity="0.75" stroke="#a8406a" stroke-opacity="0.85" stroke-width="0.7"/>
<circle cx="250.20" cy="360.00" r="2.9" fill="#e06a9a" fill-opacity="0.75" stroke="#a8406a" stroke-opacity="0.85" stroke-width="0.7"/>
<circle cx="278.20" cy="318.70" r="2.9" fill="#e06a9a" fill-opacity="0.75" stroke="#a8406a" stroke-opacity="0.85" stroke-width="0.7"/>
<circle cx="279.20" cy="321.30" r="2.9" fill="#e06a9a" fill-opacity="0.75" stroke="#a8406a" stroke-opacity="0.85" stroke-width="0.7"/>
<circle cx="272.40" cy="340.90" r="2.9" fill="#e06a9a" fill-opacity="0.75" stroke="#a8406a" stroke-opacity="0.85" stroke-width="0.7"/>
<circle cx="275.30" cy="363.20" r="2.9" fill="#e06a9a" fill-opacity="0.75" stroke="#a8406a" stroke-opacity="0.85" stroke-width="0.7"/>
<circle cx="234.20" cy="373.90" r="2.9" fill="#dcc660" fill-opacity="0.75" stroke="#a89040" stroke-opacity="0.85" stroke-width="0.7"/>
<circle cx="244.70" cy="373.90" r="2.9" fill="#dcc660" fill-opacity="0.75" stroke="#a89040" stroke-opacity="0.85" stroke-width="0.7"/>
<circle cx="255.10" cy="373.90" r="2.9" fill="#dcc660" fill-opacity="0.75" stroke="#a89040" stroke-opacity="0.85" stroke-width="0.7"/>
<circle cx="261.20" cy="373.90" r="2.9" fill="#dcc660" fill-opacity="0.75" stroke="#a89040" stroke-opacity="0.85" stroke-width="0.7"/>
<circle cx="277.80" cy="373.90" r="2.9" fill="#dcc660" fill-opacity="0.75" stroke="#a89040" stroke-opacity="0.85" stroke-width="0.7"/>
<circle cx="235.00" cy="353.90" r="2.9" fill="#dcc660" fill-opacity="0.75" stroke="#a89040" stroke-opacity="0.85" stroke-width="0.7"/>
<circle cx="229.60" cy="368.70" r="2.9" fill="#dcc660" fill-opacity="0.75" stroke="#a89040" stroke-opacity="0.85" stroke-width="0.7"/>
<circle cx="240.30" cy="337.30" r="2.9" fill="#dcc660" fill-opacity="0.75" stroke="#a89040" stroke-opacity="0.85" stroke-width="0.7"/>
<circle cx="258.60" cy="331.30" r="2.9" fill="#dcc660" fill-opacity="0.75" stroke="#a89040" stroke-opacity="0.85" stroke-width="0.7"/>
<circle cx="325.00" cy="306.50" r="2.9" fill="#dcc660" fill-opacity="0.75" stroke="#a89040" stroke-opacity="0.85" stroke-width="0.7"/>
<circle cx="324.80" cy="274.60" r="2.9" fill="#dcc660" fill-opacity="0.75" stroke="#a89040" stroke-opacity="0.85" stroke-width="0.7"/>
<circle cx="287.00" cy="323.10" r="2.9" fill="#dcc660" fill-opacity="0.75" stroke="#a89040" stroke-opacity="0.85" stroke-width="0.7"/>
<circle cx="275.30" cy="325.50" r="2.9" fill="#dcc660" fill-opacity="0.75" stroke="#a89040" stroke-opacity="0.85" stroke-width="0.7"/>
<circle cx="269.50" cy="328.00" r="2.9" fill="#dcc660" fill-opacity="0.75" stroke="#a89040" stroke-opacity="0.85" stroke-width="0.7"/>
<circle cx="258.00" cy="331.30" r="2.9" fill="#dcc660" fill-opacity="0.75" stroke="#a89040" stroke-opacity="0.85" stroke-width="0.7"/>
<circle cx="279.20" cy="334.70" r="2.9" fill="#dcc660" fill-opacity="0.75" stroke="#a89040" stroke-opacity="0.85" stroke-width="0.7"/>
<circle cx="286.00" cy="332.30" r="2.9" fill="#dcc660" fill-opacity="0.75" stroke="#a89040" stroke-opacity="0.85" stroke-width="0.7"/>
<circle cx="272.40" cy="346.70" r="2.9" fill="#dcc660" fill-opacity="0.75" stroke="#a89040" stroke-opacity="0.85" stroke-width="0.7"/>
<circle cx="274.40" cy="350.60" r="2.9" fill="#dcc660" fill-opacity="0.75" stroke="#a89040" stroke-opacity="0.85" stroke-width="0.7"/>
<circle cx="273.40" cy="355.50" r="2.9" fill="#dcc660" fill-opacity="0.75" stroke="#a89040" stroke-opacity="0.85" stroke-width="0.7"/>
<circle cx="272.40" cy="359.30" r="2.9" fill="#dcc660" fill-opacity="0.75" stroke="#a89040" stroke-opacity="0.85" stroke-width="0.7"/>
<circle cx="274.40" cy="367.10" r="2.9" fill="#dcc660" fill-opacity="0.75" stroke="#a89040" stroke-opacity="0.85" stroke-width="0.7"/>
<circle cx="264.70" cy="369.00" r="2.9" fill="#dcc660" fill-opacity="0.75" stroke="#a89040" stroke-opacity="0.85" stroke-width="0.7"/>
<circle cx="257.00" cy="373.90" r="2.9" fill="#dcc660" fill-opacity="0.75" stroke="#a89040" stroke-opacity="0.85" stroke-width="0.7"/>
<circle cx="272.40" cy="373.90" r="2.9" fill="#dcc660" fill-opacity="0.75" stroke="#a89040" stroke-opacity="0.85" stroke-width="0.7"/>
<circle cx="276.30" cy="373.90" r="2.9" fill="#dcc660" fill-opacity="0.75" stroke="#a89040" stroke-opacity="0.85" stroke-width="0.7"/>
<circle cx="271.70" cy="347.80" r="2.9" fill="#dcc660" fill-opacity="0.75" stroke="#a89040" stroke-opacity="0.85" stroke-width="0.7"/>
<circle cx="277.00" cy="341.70" r="2.9" fill="#dcc660" fill-opacity="0.75" stroke="#a89040" stroke-opacity="0.85" stroke-width="0.7"/>
<circle cx="278.70" cy="334.70" r="2.9" fill="#dcc660" fill-opacity="0.75" stroke="#a89040" stroke-opacity="0.85" stroke-width="0.7"/>
<circle cx="285.60" cy="332.10" r="2.9" fill="#dcc660" fill-opacity="0.75" stroke="#a89040" stroke-opacity="0.85" stroke-width="0.7"/>
<circle cx="238.60" cy="373.90" r="2.9" fill="#5b9fd0" fill-opacity="0.75" stroke="#3a70a0" stroke-opacity="0.85" stroke-width="0.7"/>
<circle cx="266.50" cy="373.90" r="2.9" fill="#5b9fd0" fill-opacity="0.75" stroke="#3a70a0" stroke-opacity="0.85" stroke-width="0.7"/>
<circle cx="282.20" cy="373.90" r="2.9" fill="#5b9fd0" fill-opacity="0.75" stroke="#3a70a0" stroke-opacity="0.85" stroke-width="0.7"/>
<circle cx="229.60" cy="355.60" r="2.9" fill="#5b9fd0" fill-opacity="0.75" stroke="#3a70a0" stroke-opacity="0.85" stroke-width="0.7"/>
<circle cx="229.60" cy="365.30" r="2.9" fill="#5b9fd0" fill-opacity="0.75" stroke="#3a70a0" stroke-opacity="0.85" stroke-width="0.7"/>
<circle cx="263.00" cy="331.30" r="2.9" fill="#5b9fd0" fill-opacity="0.75" stroke="#3a70a0" stroke-opacity="0.85" stroke-width="0.7"/>
<circle cx="256.00" cy="351.30" r="2.9" fill="#5b9fd0" fill-opacity="0.75" stroke="#3a70a0" stroke-opacity="0.85" stroke-width="0.7"/>
<circle cx="264.70" cy="348.30" r="2.9" fill="#5b9fd0" fill-opacity="0.75" stroke="#3a70a0" stroke-opacity="0.85" stroke-width="0.7"/>
<circle cx="293.70" cy="328.80" r="2.9" fill="#5b9fd0" fill-opacity="0.75" stroke="#3a70a0" stroke-opacity="0.85" stroke-width="0.7"/>
<circle cx="280.20" cy="325.50" r="2.9" fill="#5b9fd0" fill-opacity="0.75" stroke="#3a70a0" stroke-opacity="0.85" stroke-width="0.7"/>
<circle cx="262.70" cy="330.90" r="2.9" fill="#5b9fd0" fill-opacity="0.75" stroke="#3a70a0" stroke-opacity="0.85" stroke-width="0.7"/>
<circle cx="273.40" cy="334.20" r="2.9" fill="#5b9fd0" fill-opacity="0.75" stroke="#3a70a0" stroke-opacity="0.85" stroke-width="0.7"/>
<circle cx="271.50" cy="336.10" r="2.9" fill="#5b9fd0" fill-opacity="0.75" stroke="#3a70a0" stroke-opacity="0.85" stroke-width="0.7"/>
<circle cx="276.70" cy="341.30" r="2.9" fill="#5b9fd0" fill-opacity="0.75" stroke="#3a70a0" stroke-opacity="0.85" stroke-width="0.7"/>
<circle cx="277.80" cy="356.00" r="2.9" fill="#5b9fd0" fill-opacity="0.75" stroke="#3a70a0" stroke-opacity="0.85" stroke-width="0.7"/>
<circle cx="269.50" cy="364.20" r="2.9" fill="#5b9fd0" fill-opacity="0.75" stroke="#3a70a0" stroke-opacity="0.85" stroke-width="0.7"/>
<circle cx="283.60" cy="368.40" r="2.9" fill="#5b9fd0" fill-opacity="0.75" stroke="#3a70a0" stroke-opacity="0.85" stroke-width="0.7"/>
<circle cx="265.60" cy="373.90" r="2.9" fill="#5b9fd0" fill-opacity="0.75" stroke="#3a70a0" stroke-opacity="0.85" stroke-width="0.7"/>
<circle cx="309.20" cy="373.90" r="2.9" fill="#5b9fd0" fill-opacity="0.75" stroke="#3a70a0" stroke-opacity="0.85" stroke-width="0.7"/>
<line x1="224.00" y1="267.70" x2="224.00" y2="379.50" stroke="#111" stroke-width="1.1"/>
<line x1="223.50" y1="379.00" x2="335.50" y2="379.00" stroke="#111" stroke-width="1.1"/>
<line x1="229.50" y1="379.00" x2="229.50" y2="382.00" stroke="#333" stroke-width="0.8"/>
<text x="0" y="0" transform="translate(229.50,391.80) scale(1,1.1)" font-size="7.9" text-anchor="middle" fill="#2a2a2a" font-weight="normal" stroke="#2a2a2a" stroke-width="0.12">0</text>
<line x1="221.00" y1="373.90" x2="224.00" y2="373.90" stroke="#333" stroke-width="0.8"/>
<text x="0" y="0" transform="translate(218.00,376.70) scale(1,1.12)" font-size="7.6" text-anchor="end" fill="#2a2a2a" font-weight="normal" stroke="#2a2a2a" stroke-width="0.12">0</text>
<line x1="254.75" y1="379.00" x2="254.75" y2="382.00" stroke="#333" stroke-width="0.8"/>
<text x="0" y="0" transform="translate(254.75,391.80) scale(1,1.1)" font-size="7.9" text-anchor="middle" fill="#2a2a2a" font-weight="normal" stroke="#2a2a2a" stroke-width="0.12">25</text>
<line x1="221.00" y1="348.65" x2="224.00" y2="348.65" stroke="#333" stroke-width="0.8"/>
<text x="0" y="0" transform="translate(218.00,351.45) scale(1,1.12)" font-size="7.6" text-anchor="end" fill="#2a2a2a" font-weight="normal" stroke="#2a2a2a" stroke-width="0.12">25</text>
<line x1="280.00" y1="379.00" x2="280.00" y2="382.00" stroke="#333" stroke-width="0.8"/>
<text x="0" y="0" transform="translate(280.00,391.80) scale(1,1.1)" font-size="7.9" text-anchor="middle" fill="#2a2a2a" font-weight="normal" stroke="#2a2a2a" stroke-width="0.12">50</text>
<line x1="221.00" y1="323.40" x2="224.00" y2="323.40" stroke="#333" stroke-width="0.8"/>
<text x="0" y="0" transform="translate(218.00,326.20) scale(1,1.12)" font-size="7.6" text-anchor="end" fill="#2a2a2a" font-weight="normal" stroke="#2a2a2a" stroke-width="0.12">50</text>
<line x1="305.25" y1="379.00" x2="305.25" y2="382.00" stroke="#333" stroke-width="0.8"/>
<text x="0" y="0" transform="translate(305.25,391.80) scale(1,1.1)" font-size="7.9" text-anchor="middle" fill="#2a2a2a" font-weight="normal" stroke="#2a2a2a" stroke-width="0.12">75</text>
<line x1="221.00" y1="298.15" x2="224.00" y2="298.15" stroke="#333" stroke-width="0.8"/>
<text x="0" y="0" transform="translate(218.00,300.95) scale(1,1.12)" font-size="7.6" text-anchor="end" fill="#2a2a2a" font-weight="normal" stroke="#2a2a2a" stroke-width="0.12">75</text>
<line x1="330.50" y1="379.00" x2="330.50" y2="382.00" stroke="#333" stroke-width="0.8"/>
<text x="0" y="0" transform="translate(330.50,391.80) scale(1,1.1)" font-size="7.9" text-anchor="middle" fill="#2a2a2a" font-weight="normal" stroke="#2a2a2a" stroke-width="0.12">100</text>
<line x1="221.00" y1="272.90" x2="224.00" y2="272.90" stroke="#333" stroke-width="0.8"/>
<text x="0" y="0" transform="translate(218.00,275.70) scale(1,1.12)" font-size="7.6" text-anchor="end" fill="#2a2a2a" font-weight="normal" stroke="#2a2a2a" stroke-width="0.12">100</text>
<text x="0" y="0" transform="translate(230.10,276.50) scale(1,1.12)" font-size="7.6" text-anchor="start" fill="#c0307f" font-weight="normal" stroke="#c0307f" stroke-width="0.12">ASXL1</text>
<text x="0" y="0" transform="translate(230.10,287.70) scale(1,1.12)" font-size="7.6" text-anchor="start" fill="#b89a48" font-weight="normal" stroke="#b89a48" stroke-width="0.12">DNMT3A</text>
<text x="0" y="0" transform="translate(230.10,298.90) scale(1,1.12)" font-size="7.6" text-anchor="start" fill="#5a8cb8" font-weight="normal" stroke="#5a8cb8" stroke-width="0.12">TET2</text>
<text x="0" y="0" transform="translate(279.80,404.30) scale(1,1.1)" font-size="8.6" text-anchor="middle" fill="#222" font-weight="bold" textLength="44.6" lengthAdjust="spacingAndGlyphs">Diagnosis VAF%</text>
<text x="0" y="0" font-size="8.8" fill="#222" font-weight="bold" text-anchor="middle" textLength="31.5" lengthAdjust="spacingAndGlyphs" transform="translate(199.70,322.9) rotate(-90) scale(1,1.08)">CR1 VAF%</text>
<line x1="397.10" y1="373.90" x2="503.15" y2="267.85" stroke="#3a3a3a" stroke-width="1.15" stroke-dasharray="3.3,2.9"/>
<circle cx="479.50" cy="285.50" r="2.9" fill="#7cc070" fill-opacity="0.72" stroke="#4f8a48" stroke-opacity="0.85" stroke-width="0.7"/>
<circle cx="446.00" cy="323.90" r="2.9" fill="#7cc070" fill-opacity="0.72" stroke="#4f8a48" stroke-opacity="0.85" stroke-width="0.7"/>
<circle cx="447.50" cy="324.30" r="2.9" fill="#7cc070" fill-opacity="0.72" stroke="#4f8a48" stroke-opacity="0.85" stroke-width="0.7"/>
<circle cx="425.70" cy="351.00" r="2.9" fill="#7cc070" fill-opacity="0.72" stroke="#4f8a48" stroke-opacity="0.85" stroke-width="0.7"/>
<circle cx="427.20" cy="364.60" r="2.9" fill="#7cc070" fill-opacity="0.72" stroke="#4f8a48" stroke-opacity="0.85" stroke-width="0.7"/>
<circle cx="425.70" cy="367.60" r="2.9" fill="#7cc070" fill-opacity="0.72" stroke="#4f8a48" stroke-opacity="0.85" stroke-width="0.7"/>
<circle cx="454.80" cy="373.30" r="2.9" fill="#7cc070" fill-opacity="0.72" stroke="#4f8a48" stroke-opacity="0.85" stroke-width="0.7"/>
<circle cx="475.70" cy="373.90" r="2.9" fill="#7cc070" fill-opacity="0.72" stroke="#4f8a48" stroke-opacity="0.85" stroke-width="0.7"/>
<circle cx="396.70" cy="373.90" r="2.9" fill="#7cc070" fill-opacity="0.72" stroke="#4f8a48" stroke-opacity="0.85" stroke-width="0.7"/>
<circle cx="400.00" cy="373.90" r="2.9" fill="#7cc070" fill-opacity="0.72" stroke="#4f8a48" stroke-opacity="0.85" stroke-width="0.7"/>
<circle cx="403.50" cy="373.90" r="2.9" fill="#7cc070" fill-opacity="0.72" stroke="#4f8a48" stroke-opacity="0.85" stroke-width="0.7"/>
<circle cx="409.50" cy="371.50" r="2.9" fill="#7cc070" fill-opacity="0.72" stroke="#4f8a48" stroke-opacity="0.85" stroke-width="0.7"/>
<circle cx="419.00" cy="373.90" r="2.9" fill="#7cc070" fill-opacity="0.72" stroke="#4f8a48" stroke-opacity="0.85" stroke-width="0.7"/>
<circle cx="422.30" cy="373.90" r="2.9" fill="#7cc070" fill-opacity="0.72" stroke="#4f8a48" stroke-opacity="0.85" stroke-width="0.7"/>
<circle cx="437.10" cy="373.90" r="2.9" fill="#7cc070" fill-opacity="0.72" stroke="#4f8a48" stroke-opacity="0.85" stroke-width="0.7"/>
<circle cx="440.50" cy="373.90" r="2.9" fill="#7cc070" fill-opacity="0.72" stroke="#4f8a48" stroke-opacity="0.85" stroke-width="0.7"/>
<circle cx="444.50" cy="373.90" r="2.9" fill="#7cc070" fill-opacity="0.72" stroke="#4f8a48" stroke-opacity="0.85" stroke-width="0.7"/>
<circle cx="437.80" cy="368.10" r="2.9" fill="#a05cb8" fill-opacity="0.72" stroke="#703f88" stroke-opacity="0.85" stroke-width="0.7"/>
<circle cx="440.90" cy="368.80" r="2.9" fill="#a05cb8" fill-opacity="0.72" stroke="#703f88" stroke-opacity="0.85" stroke-width="0.7"/>
<circle cx="410.90" cy="373.90" r="2.9" fill="#a05cb8" fill-opacity="0.72" stroke="#703f88" stroke-opacity="0.85" stroke-width="0.7"/>
<circle cx="414.20" cy="373.90" r="2.9" fill="#a05cb8" fill-opacity="0.72" stroke="#703f88" stroke-opacity="0.85" stroke-width="0.7"/>
<circle cx="429.00" cy="373.90" r="2.9" fill="#a05cb8" fill-opacity="0.72" stroke="#703f88" stroke-opacity="0.85" stroke-width="0.7"/>
<circle cx="432.40" cy="373.90" r="2.9" fill="#a05cb8" fill-opacity="0.72" stroke="#703f88" stroke-opacity="0.85" stroke-width="0.7"/>
<circle cx="396.70" cy="327.70" r="2.9" fill="#d9824f" fill-opacity="0.72" stroke="#a85a30" stroke-opacity="0.85" stroke-width="0.7"/>
<circle cx="396.70" cy="355.90" r="2.9" fill="#d9824f" fill-opacity="0.72" stroke="#a85a30" stroke-opacity="0.85" stroke-width="0.7"/>
<circle cx="406.80" cy="373.90" r="2.9" fill="#d9824f" fill-opacity="0.72" stroke="#a85a30" stroke-opacity="0.85" stroke-width="0.7"/>
<circle cx="426.30" cy="373.90" r="2.9" fill="#d9824f" fill-opacity="0.72" stroke="#a85a30" stroke-opacity="0.85" stroke-width="0.7"/>
<line x1="391.60" y1="267.70" x2="391.60" y2="379.50" stroke="#111" stroke-width="1.1"/>
<line x1="391.10" y1="379.00" x2="503.10" y2="379.00" stroke="#111" stroke-width="1.1"/>
<line x1="397.10" y1="379.00" x2="397.10" y2="382.00" stroke="#333" stroke-width="0.8"/>
<text x="0" y="0" transform="translate(397.10,391.80) scale(1,1.1)" font-size="7.9" text-anchor="middle" fill="#2a2a2a" font-weight="normal" stroke="#2a2a2a" stroke-width="0.12">0</text>
<line x1="388.60" y1="373.90" x2="391.60" y2="373.90" stroke="#333" stroke-width="0.8"/>
<text x="0" y="0" transform="translate(385.60,376.70) scale(1,1.12)" font-size="7.6" text-anchor="end" fill="#2a2a2a" font-weight="normal" stroke="#2a2a2a" stroke-width="0.12">0</text>
<line x1="422.35" y1="379.00" x2="422.35" y2="382.00" stroke="#333" stroke-width="0.8"/>
<text x="0" y="0" transform="translate(422.35,391.80) scale(1,1.1)" font-size="7.9" text-anchor="middle" fill="#2a2a2a" font-weight="normal" stroke="#2a2a2a" stroke-width="0.12">25</text>
<line x1="388.60" y1="348.65" x2="391.60" y2="348.65" stroke="#333" stroke-width="0.8"/>
<text x="0" y="0" transform="translate(385.60,351.45) scale(1,1.12)" font-size="7.6" text-anchor="end" fill="#2a2a2a" font-weight="normal" stroke="#2a2a2a" stroke-width="0.12">25</text>
<line x1="447.60" y1="379.00" x2="447.60" y2="382.00" stroke="#333" stroke-width="0.8"/>
<text x="0" y="0" transform="translate(447.60,391.80) scale(1,1.1)" font-size="7.9" text-anchor="middle" fill="#2a2a2a" font-weight="normal" stroke="#2a2a2a" stroke-width="0.12">50</text>
<line x1="388.60" y1="323.40" x2="391.60" y2="323.40" stroke="#333" stroke-width="0.8"/>
<text x="0" y="0" transform="translate(385.60,326.20) scale(1,1.12)" font-size="7.6" text-anchor="end" fill="#2a2a2a" font-weight="normal" stroke="#2a2a2a" stroke-width="0.12">50</text>
<line x1="472.85" y1="379.00" x2="472.85" y2="382.00" stroke="#333" stroke-width="0.8"/>
<text x="0" y="0" transform="translate(472.85,391.80) scale(1,1.1)" font-size="7.9" text-anchor="middle" fill="#2a2a2a" font-weight="normal" stroke="#2a2a2a" stroke-width="0.12">75</text>
<line x1="388.60" y1="298.15" x2="391.60" y2="298.15" stroke="#333" stroke-width="0.8"/>
<text x="0" y="0" transform="translate(385.60,300.95) scale(1,1.12)" font-size="7.6" text-anchor="end" fill="#2a2a2a" font-weight="normal" stroke="#2a2a2a" stroke-width="0.12">75</text>
<line x1="498.10" y1="379.00" x2="498.10" y2="382.00" stroke="#333" stroke-width="0.8"/>
<text x="0" y="0" transform="translate(498.10,391.80) scale(1,1.1)" font-size="7.9" text-anchor="middle" fill="#2a2a2a" font-weight="normal" stroke="#2a2a2a" stroke-width="0.12">100</text>
<line x1="388.60" y1="272.90" x2="391.60" y2="272.90" stroke="#333" stroke-width="0.8"/>
<text x="0" y="0" transform="translate(385.60,275.70) scale(1,1.12)" font-size="7.6" text-anchor="end" fill="#2a2a2a" font-weight="normal" stroke="#2a2a2a" stroke-width="0.12">100</text>
<text x="0" y="0" transform="translate(397.70,276.50) scale(1,1.12)" font-size="7.6" text-anchor="start" fill="#4f9a48" font-weight="normal" stroke="#4f9a48" stroke-width="0.12">FLT3</text>
<text x="0" y="0" transform="translate(397.70,287.70) scale(1,1.12)" font-size="7.6" text-anchor="start" fill="#9550b0" font-weight="normal" stroke="#9550b0" stroke-width="0.12">NPM1</text>
<text x="0" y="0" transform="translate(397.70,298.90) scale(1,1.12)" font-size="7.6" text-anchor="start" fill="#c07a50" font-weight="normal" stroke="#c07a50" stroke-width="0.12">NRAS</text>
<text x="0" y="0" transform="translate(447.40,404.30) scale(1,1.1)" font-size="8.6" text-anchor="middle" fill="#222" font-weight="bold" textLength="44.6" lengthAdjust="spacingAndGlyphs">Diagnosis VAF%</text>
<text x="0" y="0" font-size="8.8" fill="#222" font-weight="bold" text-anchor="middle" textLength="31.5" lengthAdjust="spacingAndGlyphs" transform="translate(367.30,322.9) rotate(-90) scale(1,1.08)">CR1 VAF%</text>
<rect x="0" y="0" width="520" height="1.1" fill="#636363"/>
<rect x="0" y="0" width="1.05" height="413" fill="#606060"/>
<rect x="518.8" y="0" width="1.2" height="413" fill="#606060"/>
<rect x="0" y="411.75" width="520" height="1.25" fill="#636363"/>
</svg></body></html>
